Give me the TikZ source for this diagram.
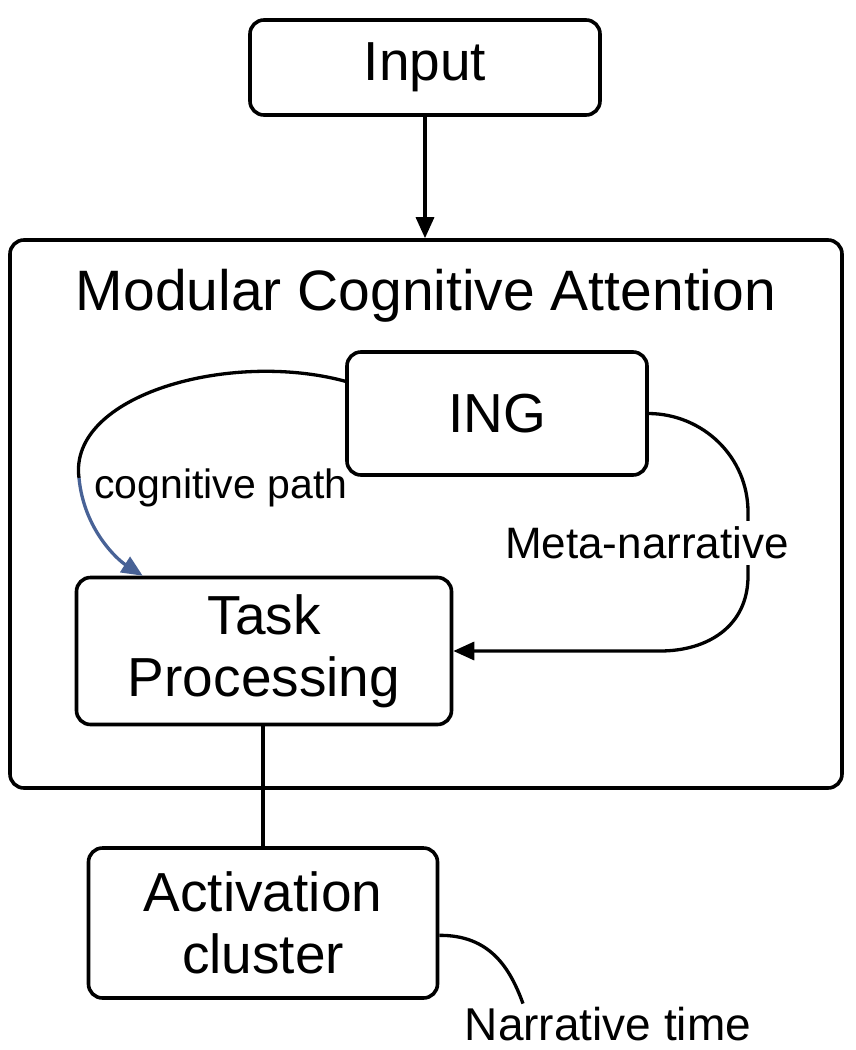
\documentclass[tikz,border=0pt]{standalone}
\usepackage{fontspec}
\setmainfont{Liberation Sans}
\usetikzlibrary{positioning, arrows.meta}
\definecolor{cogblue}{RGB}{72,98,150}

\tikzset{
  box/.style={draw, rounded corners=14pt, line width=3.6pt, align=center, font=\fontsize{55}{62}\selectfont},
  link/.style={line width=3.3pt},
  tip/.style={-{Triangle[length=21pt,width=18pt]}},
}

\begin{document}
\begin{tikzpicture}[x=1pt, y=-1pt]
  \useasboundingbox (0,0) rectangle (856,1050);

  % Eingang
  \node[box, minimum width=350pt, minimum height=95pt] (input) at (425,67.5) {Input};

  % Modul
  \node[box, minimum width=832pt, minimum height=548pt] (mca) at (426,514) {};
  \node[font=\fontsize{57}{62}\selectfont] (mcatitle) at (426,296) {Modular Cognitive Attention};

  \node[box, minimum width=300pt, minimum height=123pt] (ing) at (497,413.5) {ING};
  \node[box, minimum width=375pt, minimum height=147pt] (task) at (264,651) {Task\\Processing};

  % Aktivierung
  \node[box, minimum width=349pt, minimum height=150pt] (act) at (263,923) {Activation\\cluster};
  \node[font=\fontsize{46}{50}\selectfont] (ntime) at (608,1024) {Narrative time};

  % Verbindungen
  \draw[link, tip] (input.south) -- (input.south |- mca.north);
  \draw[link] (task.south -| 263,0) -- (act.north);

  \coordinate (cogbend) at (79,478);
  \draw[link] (ing.168) .. controls (230,350) and (68,395) .. (cogbend);
  \draw[link, cogblue, tip] (cogbend) .. controls (84,530) and (118,560) .. ([xshift=68pt]task.north west);
  \node[font=\fontsize{41}{45}\selectfont] (coglbl) at (221,488) {cognitive path};

  \draw[link, tip] (ing.east) .. controls (703,414) and (748,457) .. (748,512) -- (748,576)
    .. controls (748,626) and (708,651) .. (660,651) -- (task.east);
  \node[fill=white, inner sep=6pt, font=\fontsize{44}{48}\selectfont] (metalbl) at (647,543) {Meta-narrative};

  \draw[link] (act.-4) .. controls (490,935) and (510,968) .. ([xshift=-85pt]ntime.north);
\end{tikzpicture}
\end{document}
